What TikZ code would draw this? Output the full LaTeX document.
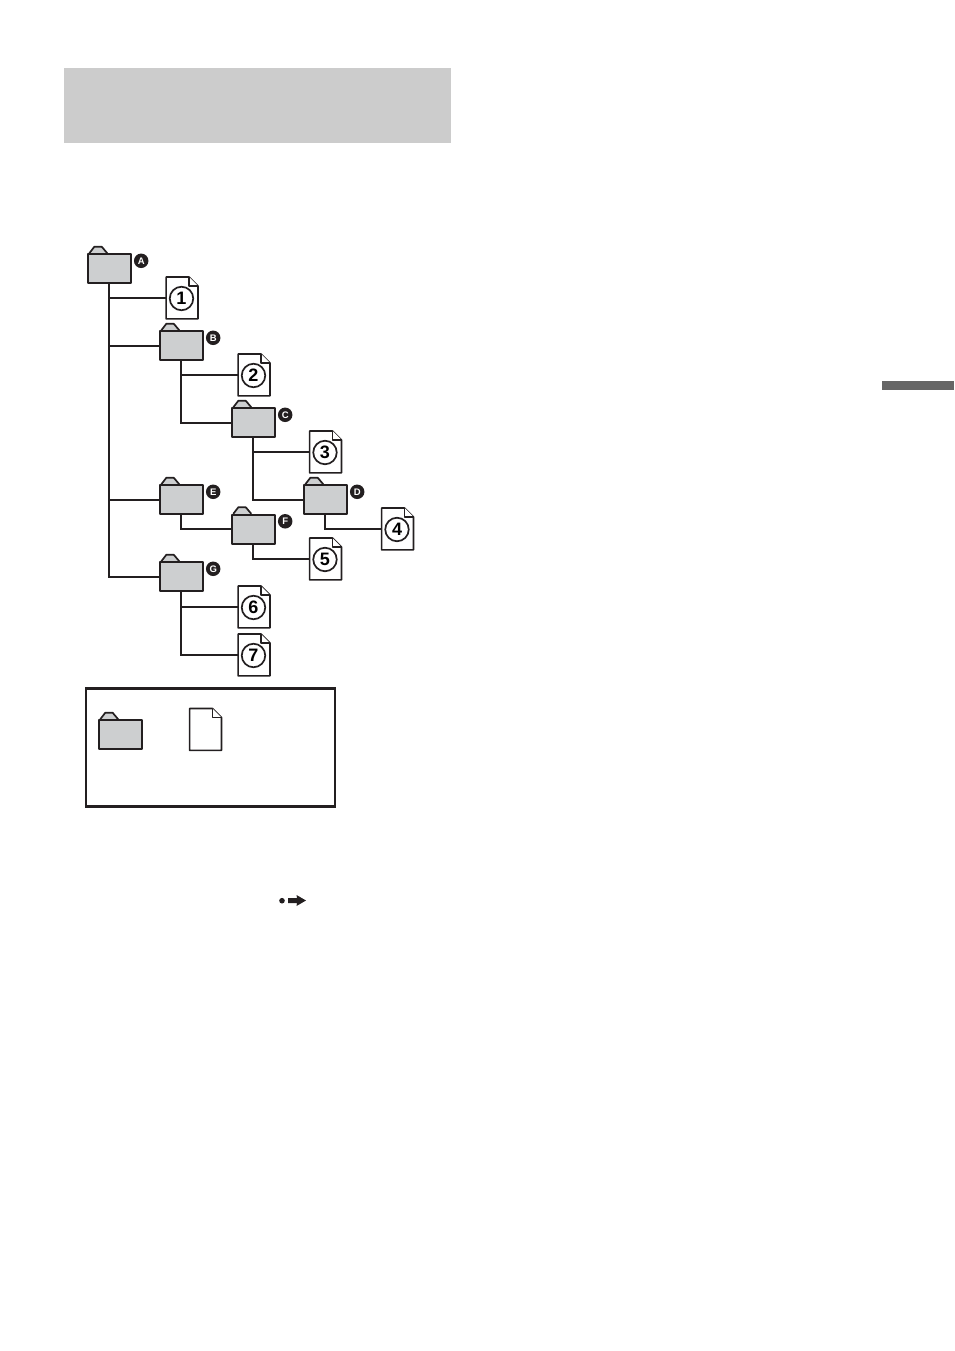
\documentclass[tikz,border=0pt]{standalone}
\usepackage{fontspec}
\setmainfont{Liberation Sans}
\definecolor{ink}{HTML}{231F20}
\definecolor{foldergray}{HTML}{CDCFD0}
\definecolor{bannergray}{HTML}{CCCCCC}
\definecolor{tabgray}{HTML}{666666}
\tikzset{
  conn/.style={draw=ink,line width=1.9pt},
  folderbody/.style={draw=ink,line width=1.9pt,fill=foldergray,rectangle,minimum width=43pt,minimum height=29pt,inner sep=0pt,line join=round},
  foldertab/.style={draw=ink,line width=1.7pt,fill=foldergray,line join=round},
  docframe/.style={rectangle,minimum width=31.5pt,minimum height=41.5pt,inner sep=0pt},
  docline/.style={draw=ink,line width=1.6pt,fill=white,line join=round},
  numring/.style={circle,draw=ink,line width=1.7pt,minimum size=23.5pt,inner sep=0pt,font=\fontsize{18}{18}\selectfont\bfseries},
  badge/.style={circle,fill=ink,minimum size=14.5pt,inner sep=0pt,text=white,font=\fontsize{9.5}{9.5}\selectfont\bfseries},
  legendbox/.style={draw=ink,line width=2.2pt,rectangle,minimum width=249pt,minimum height=118pt,inner sep=0pt},
  flatbar/.style={rectangle,inner sep=0pt,draw=none}
}
% \folderat{name}{left}{top}
\newcommand{\folderat}[3]{%
  \draw[foldertab] (#2+2.5,#3) -- (#2+7.5,#3-6.5) -- (#2+15,#3-6.5) -- (#2+20.5,#3);
  \node[folderbody,anchor=north west] (#1) at (#2,#3) {};
}
% \docat{name}{left}{top}
\newcommand{\docat}[3]{%
  \node[docframe,anchor=north west] (#1) at (#2+0.9,#3+0.7) {};
  \draw[docline] (#1.north west) -- ([xshift=-9pt]#1.north east) -- ([yshift=-9pt]#1.north east) -- (#1.south east) -- (#1.south west) -- cycle;
  \draw[docline] ([xshift=-9pt]#1.north east) -- ([xshift=-9pt,yshift=-9pt]#1.north east) -- ([yshift=-9pt]#1.north east);
}
\newcommand{\numdoc}[4]{%
  \docat{#1}{#2}{#3}
  \node[numring] (#1n) at (#2+16.3,#3+22.2) {#4};
}
\newcommand{\badgeon}[2]{%
  \node[badge] (#1b) at ([xshift=9.5pt,yshift=-7.5pt]#1.north east) {#2};
}
\begin{document}
\begin{tikzpicture}[x=1pt,y=-1pt]
\useasboundingbox (0,0) rectangle (954,1351);
\node[flatbar,fill=bannergray,minimum width=387pt,minimum height=75pt,anchor=north west] (banner) at (64,68) {};
\node[flatbar,fill=tabgray,minimum width=72pt,minimum height=9pt,anchor=north west] (sidetab) at (882,381) {};

\begin{scope}[xshift=-1.2pt,yshift=0.7pt]
\folderat{A}{88}{254}
\folderat{B}{160}{331}
\folderat{C}{232}{408}
\folderat{D}{304}{485}
\folderat{E}{160}{485}
\folderat{F}{232}{514.5}
\folderat{G}{160}{562}

\numdoc{d1}{166.4}{277}{1}
\numdoc{d2}{238.4}{354}{2}
\numdoc{d3}{309.9}{431}{3}
\numdoc{d4}{381.9}{508}{4}
\numdoc{d5}{309.9}{538}{5}
\numdoc{d6}{238.4}{586}{6}
\numdoc{d7}{238.4}{634}{7}

\draw[conn] (A.south) |- (d1.west);
\draw[conn] (A.south) |- (B.west);
\draw[conn] (A.south) |- (E.west);
\draw[conn] (A.south) |- (G.west);
\draw[conn] (B.south) |- (d2.west);
\draw[conn] (B.south) |- (C.west);
\draw[conn] (C.south) |- (d3.west);
\draw[conn] (C.south) |- (D.west);
\draw[conn] (D.south) |- (d4.west);
\draw[conn] (E.south) |- (F.west);
\draw[conn] (F.south) |- (d5.west);
\draw[conn] (G.south) |- (d6.west);
\draw[conn] (G.south) |- (d7.west);

\badgeon{A}{A}
\badgeon{B}{B}
\badgeon{C}{C}
\badgeon{D}{D}
\badgeon{E}{E}
\badgeon{F}{F}
\badgeon{G}{G}

\node[legendbox,anchor=north west] (legend) at (86.4,688) {};
\folderat{Lf}{98.9}{720}
\docat{Ld}{189.9}{708.5}
\end{scope}

\fill[ink] (282,900.7) circle (2.8pt);
\fill[ink] (288,898) -- (297,898) -- (296.5,895) -- (306,900.5) -- (296.5,906) -- (297,903) -- (288,903) -- cycle;
\end{tikzpicture}
\end{document}
